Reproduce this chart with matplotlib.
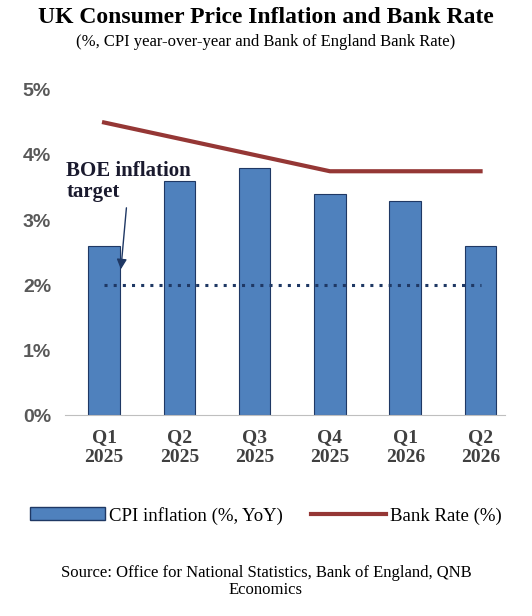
import matplotlib
matplotlib.use('Agg')
import matplotlib.pyplot as plt
from matplotlib.patches import Patch
from matplotlib.lines import Line2D

quarters = ['Q1\n2025', 'Q2\n2025', 'Q3\n2025', 'Q4\n2025', 'Q1\n2026', 'Q2\n2026']
cpi = [2.6, 3.6, 3.8, 3.4, 3.3, 2.6]
bank_rate = [4.5, 4.25, 4.0, 3.75, 3.75, 3.75]
target = [2.0] * 6
yticks = [0, 1, 2, 3, 4, 5]

serif = 'Liberation Serif'
bar_col = '#4F81BD'
line_col = '#953735'

fig = plt.figure(figsize=(5.32, 6.16), dpi=100)
ax = fig.add_axes([0.122, 0.326, 0.828, 0.528])
x = list(range(len(quarters)))
ax.bar(x, cpi, width=0.42, color=bar_col, edgecolor='#1F3864', linewidth=0.8)
ax.plot(x, bank_rate, color=line_col, lw=3)
ax.plot(x, target, color='#1F3864', lw=2.2, ls=(0, (1, 2)))

ax.set_ylim(0, 5)
ax.set_xlim(-0.52, 5.33)
ax.set_yticks(yticks)
ax.set_yticklabels([f'{v}%' for v in yticks], fontsize=14, fontweight='bold',
                   color='#595959', family='Liberation Sans')
ax.set_xticks(x)
ax.set_xticklabels(quarters, fontsize=14, fontweight='bold', family=serif, color='#404040')
ax.tick_params(length=0, pad=10)
for s in ['top', 'right', 'left']:
    ax.spines[s].set_visible(False)
ax.spines['bottom'].set_color('#BFBFBF')

ax.annotate('BOE inflation\ntarget', xy=(0.22, 2.2), xytext=(-0.5, 3.35),
            fontsize=15, fontweight='bold', family=serif, color='#1a1a2e',
            linespacing=1.1,
            arrowprops=dict(arrowstyle='-|>', color='#1F3864', lw=1))

fig.text(0.5, 0.962, 'UK Consumer Price Inflation and Bank Rate', ha='center',
         fontsize=17, fontweight='bold', family=serif)
fig.text(0.5, 0.925, '(%, CPI year-over-year and Bank of England Bank Rate)', ha='center',
         fontsize=12, family=serif)

handles = [Patch(facecolor=bar_col, edgecolor='#1F3864'),
           Line2D([0], [0], color=line_col, lw=3)]
fig.legend(handles, ['CPI inflation (%, YoY)', 'Bank Rate (%)'], loc='center',
           bbox_to_anchor=(0.5, 0.163), ncol=2, frameon=False,
           prop={'family': serif, 'size': 13.5}, handlelength=4, columnspacing=1.5,
           handletextpad=0.2)

fig.text(0.5, 0.035, 'Source: Office for National Statistics, Bank of England, QNB\nEconomics',
         ha='center', fontsize=12, family=serif, linespacing=1.1)

fig.savefig('out.png', dpi=100)
